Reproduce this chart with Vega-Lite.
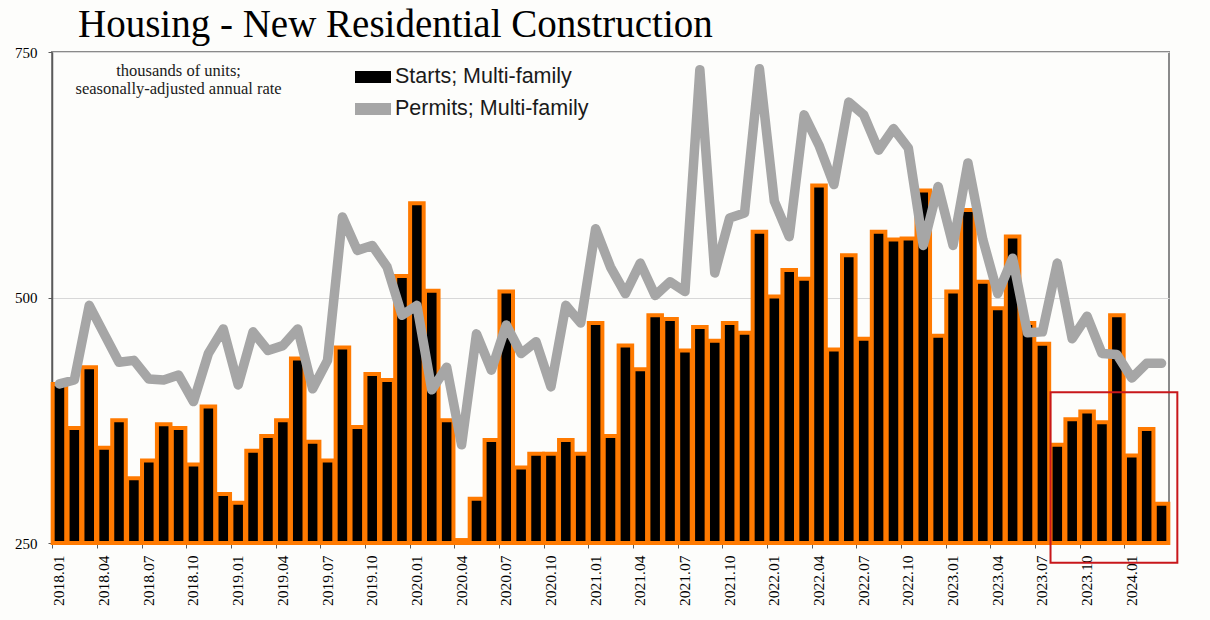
{
  "$schema": "https://vega.github.io/schema/vega-lite/v6.json",
  "width": 1117,
  "height": 491,
  "autosize": {"type": "none"},
  "padding": {"left": 52, "top": 52, "right": 41, "bottom": 77},
  "background": "#fdfdfb",
  "title": {
    "text": "Housing - New Residential Construction",
    "anchor": "start",
    "frame": "group",
    "dx": 26,
    "dy": 38,
    "offset": 7,
    "baseline": "alphabetic",
    "font": "Liberation Serif",
    "fontSize": 39,
    "fontWeight": "normal",
    "color": "#000000"
  },
  "config": {
    "view": {"stroke": "#8a8a8a", "strokeWidth": 2},
    "axis": {
      "labelFont": "Liberation Serif",
      "labelFontSize": 15,
      "labelColor": "#000000",
      "domainColor": "#5a5a5a",
      "domainWidth": 1.5,
      "tickColor": "#5a5a5a",
      "tickWidth": 1
    },
    "axisY": {
      "tickSize": 4,
      "labelPadding": 11,
      "gridColor": "#d8d8d8",
      "gridWidth": 1
    }
  },
  "data": {
    "values": [
      {"month": "2018.01", "starts": 412, "permits": 412},
      {"month": "2018.02", "starts": 367, "permits": 416},
      {"month": "2018.03", "starts": 429, "permits": 492},
      {"month": "2018.04", "starts": 347, "permits": 463},
      {"month": "2018.05", "starts": 375, "permits": 434},
      {"month": "2018.06", "starts": 316, "permits": 436},
      {"month": "2018.07", "starts": 334, "permits": 417},
      {"month": "2018.08", "starts": 371, "permits": 416},
      {"month": "2018.09", "starts": 367, "permits": 421},
      {"month": "2018.10", "starts": 330, "permits": 394},
      {"month": "2018.11", "starts": 389, "permits": 443},
      {"month": "2018.12", "starts": 300, "permits": 468},
      {"month": "2019.01", "starts": 291, "permits": 411},
      {"month": "2019.02", "starts": 344, "permits": 465},
      {"month": "2019.03", "starts": 359, "permits": 446},
      {"month": "2019.04", "starts": 375, "permits": 451},
      {"month": "2019.05", "starts": 438, "permits": 468},
      {"month": "2019.06", "starts": 353, "permits": 407},
      {"month": "2019.07", "starts": 334, "permits": 436},
      {"month": "2019.08", "starts": 449, "permits": 582},
      {"month": "2019.09", "starts": 368, "permits": 548},
      {"month": "2019.10", "starts": 422, "permits": 553},
      {"month": "2019.11", "starts": 416, "permits": 531},
      {"month": "2019.12", "starts": 522, "permits": 482},
      {"month": "2020.01", "starts": 596, "permits": 492},
      {"month": "2020.02", "starts": 507, "permits": 406},
      {"month": "2020.03", "starts": 375, "permits": 429},
      {"month": "2020.04", "starts": 253, "permits": 350},
      {"month": "2020.05", "starts": 295, "permits": 463},
      {"month": "2020.06", "starts": 355, "permits": 426},
      {"month": "2020.07", "starts": 506, "permits": 472},
      {"month": "2020.08", "starts": 327, "permits": 443},
      {"month": "2020.09", "starts": 341, "permits": 455},
      {"month": "2020.10", "starts": 341, "permits": 409},
      {"month": "2020.11", "starts": 355, "permits": 492},
      {"month": "2020.12", "starts": 341, "permits": 474},
      {"month": "2021.01", "starts": 474, "permits": 570},
      {"month": "2021.02", "starts": 359, "permits": 531},
      {"month": "2021.03", "starts": 451, "permits": 504},
      {"month": "2021.04", "starts": 427, "permits": 535},
      {"month": "2021.05", "starts": 482, "permits": 502},
      {"month": "2021.06", "starts": 478, "permits": 516},
      {"month": "2021.07", "starts": 446, "permits": 506},
      {"month": "2021.08", "starts": 470, "permits": 732},
      {"month": "2021.09", "starts": 456, "permits": 525},
      {"month": "2021.10", "starts": 474, "permits": 581},
      {"month": "2021.11", "starts": 464, "permits": 586},
      {"month": "2021.12", "starts": 567, "permits": 733},
      {"month": "2022.01", "starts": 501, "permits": 598},
      {"month": "2022.02", "starts": 528, "permits": 562},
      {"month": "2022.03", "starts": 519, "permits": 686},
      {"month": "2022.04", "starts": 614, "permits": 655},
      {"month": "2022.05", "starts": 447, "permits": 615},
      {"month": "2022.06", "starts": 543, "permits": 699},
      {"month": "2022.07", "starts": 458, "permits": 686},
      {"month": "2022.08", "starts": 567, "permits": 650},
      {"month": "2022.09", "starts": 559, "permits": 672},
      {"month": "2022.10", "starts": 560, "permits": 652},
      {"month": "2022.11", "starts": 609, "permits": 553},
      {"month": "2022.12", "starts": 461, "permits": 613},
      {"month": "2023.01", "starts": 506, "permits": 553},
      {"month": "2023.02", "starts": 589, "permits": 637},
      {"month": "2023.03", "starts": 516, "permits": 559},
      {"month": "2023.04", "starts": 489, "permits": 504},
      {"month": "2023.05", "starts": 562, "permits": 540},
      {"month": "2023.06", "starts": 474, "permits": 464},
      {"month": "2023.07", "starts": 453, "permits": 465},
      {"month": "2023.08", "starts": 350, "permits": 535},
      {"month": "2023.09", "starts": 376, "permits": 458},
      {"month": "2023.10", "starts": 384, "permits": 481},
      {"month": "2023.11", "starts": 373, "permits": 443},
      {"month": "2023.12", "starts": 482, "permits": 442},
      {"month": "2024.01", "starts": 339, "permits": 418},
      {"month": "2024.02", "starts": 366, "permits": 433},
      {"month": "2024.03", "starts": 290, "permits": 433}
    ]
  },
  "encoding": {
    "x": {
      "field": "month",
      "type": "ordinal",
      "sort": null,
      "scale": {"paddingInner": 0.09, "paddingOuter": 0.045},
      "axis": {
        "title": null,
        "values": ["2018.01", "2018.04", "2018.07", "2018.10", "2019.01", "2019.04", "2019.07", "2019.10", "2020.01", "2020.04", "2020.07", "2020.10", "2021.01", "2021.04", "2021.07", "2021.10", "2022.01", "2022.04", "2022.07", "2022.10", "2023.01", "2023.04", "2023.07", "2023.10", "2024.01"],
        "bandPosition": 0,
        "labelAngle": -90,
        "labelFontSize": 15.5,
        "tickSize": 5,
        "labelPadding": 7,
        "grid": false
      }
    }
  },
  "layer": [
    {
      "mark": {"type": "bar", "stroke": "#ff7a00", "strokeWidth": 4},
      "encoding": {
        "y": {
          "field": "starts",
          "type": "quantitative",
          "scale": {"domain": [250, 750], "nice": false, "zero": false},
          "axis": {"title": null, "values": [250, 500, 750], "grid": true, "tickSize": 4, "labelPadding": 11}
        },
        "y2": {"datum": 250},
        "color": {
          "datum": "Starts; Multi-family",
          "scale": {"domain": ["Starts; Multi-family", "Permits; Multi-family"], "range": ["#000000", "#a6a6a6"]},
          "legend": {
            "orient": "none",
            "legendX": 303,
            "legendY": 7,
            "title": null,
            "padding": 0,
            "symbolType": "M-1,-0.33H1V0.33H-1Z",
            "symbolSize": 1296,
            "symbolStrokeWidth": 0,
            "labelFont": "Liberation Sans",
            "labelFontSize": 21.5,
            "labelLimit": 400,
            "labelColor": "#1a1a1a",
            "labelOffset": 4,
            "rowPadding": 3,
            "encode": {
              "symbols": {
                "update": {
                  "fill": {"scale": "color", "field": "value"},
                  "stroke": {"value": "transparent"},
                  "opacity": {"value": 1}
                }
              }
            }
          }
        }
      }
    },
    {
      "mark": {"type": "line", "strokeWidth": 9.5, "strokeJoin": "round", "strokeCap": "round"},
      "encoding": {
        "y": {
          "field": "permits",
          "type": "quantitative",
          "axis": {"title": null, "values": [250, 500, 750], "grid": true, "tickSize": 4, "labelPadding": 11}
        },
        "color": {"datum": "Permits; Multi-family"}
      }
    },
    {
      "data": {"values": [{"note": "units"}]},
      "mark": {
        "type": "text",
        "text": ["thousands of units;", "seasonally-adjusted annual rate"],
        "font": "Liberation Serif",
        "fontSize": 16.5,
        "lineHeight": 18.5,
        "align": "center",
        "baseline": "alphabetic",
        "color": "#1a1a1a"
      },
      "encoding": {
        "x": {"datum": "2018.09"},
        "y": {"datum": 726}
      }
    },
    {
      "data": {"values": [{"box": "highlight"}]},
      "mark": {"type": "rect", "filled": false, "stroke": "#c8171b", "strokeWidth": 2, "clip": false, "x2Offset": 9},
      "encoding": {
        "x": {"datum": "2023.08", "bandPosition": 0},
        "x2": {"datum": "2024.03", "bandPosition": 1},
        "y": {"datum": 403.5},
        "y2": {"datum": 230}
      }
    }
  ]
}
